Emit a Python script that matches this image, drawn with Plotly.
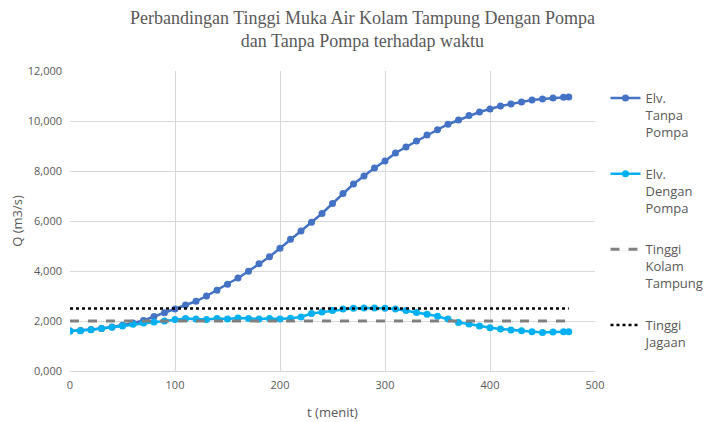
import plotly.graph_objects as go

t = [0, 10, 20, 30, 40, 50, 60, 70, 80, 90, 100, 110, 120, 130, 140, 150, 160, 170, 180, 190,
     200, 210, 220, 230, 240, 250, 260, 270, 280, 290, 300, 310, 320, 330, 340, 350, 360, 370,
     380, 390, 400, 410, 420, 430, 440, 450, 460, 470, 475]

elv_tanpa = [1600, 1620, 1660, 1700, 1760, 1830, 1920, 2020, 2180, 2330, 2480, 2640, 2790, 3000,
             3230, 3470, 3720, 3990, 4290, 4570, 4910, 5270, 5600, 5950, 6300, 6700, 7100, 7480,
             7800, 8120, 8400, 8720, 8960, 9200, 9440, 9650, 9870, 10040, 10220, 10360, 10480,
             10600, 10680, 10760, 10840, 10880, 10920, 10950, 10960]

elv_dengan = [1600, 1610, 1650, 1700, 1750, 1800, 1870, 1920, 1960, 2000, 2060, 2100, 2080, 2060,
              2100, 2080, 2120, 2100, 2080, 2100, 2080, 2110, 2160, 2300, 2360, 2420, 2480, 2510,
              2520, 2520, 2510, 2480, 2420, 2340, 2270, 2190, 2080, 1940, 1880, 1800, 1730, 1680,
              1640, 1610, 1570, 1540, 1560, 1570, 1570]

tinggi_kolam = [2000] * len(t)
tinggi_jagaan = [2500] * len(t)

y_ticks = [0, 2000, 4000, 6000, 8000, 10000, 12000]
y_labels = ["0,000", "2,000", "4,000", "6,000", "8,000", "10,000", "12,000"]
x_ticks = [0, 100, 200, 300, 400, 500]

fig = go.Figure()
fig.add_trace(go.Scatter(x=t, y=elv_tanpa, mode="lines+markers",
                         name="Elv.<br>Tanpa<br>Pompa", legendgroup="a",
                         line=dict(color="#4472C4", width=2.5),
                         marker=dict(color="#4472C4", size=7)))
fig.add_trace(go.Scatter(x=t, y=elv_dengan, mode="lines+markers",
                         name="Elv.<br>Dengan<br>Pompa", legendgroup="b",
                         line=dict(color="#00B0F0", width=2.5),
                         marker=dict(color="#00B0F0", size=7)))
fig.add_trace(go.Scatter(x=t, y=tinggi_kolam, mode="lines",
                         name="Tinggi<br>Kolam<br>Tampung", legendgroup="c",
                         line=dict(color="#808080", width=3, dash="dash")))
fig.add_trace(go.Scatter(x=t, y=tinggi_jagaan, mode="lines",
                         name="Tinggi<br>Jagaan", legendgroup="d",
                         line=dict(color="#000000", width=2.5, dash="dot")))

fig.add_annotation(text="Perbandingan Tinggi Muka Air Kolam Tampung Dengan Pompa<br>dan Tanpa Pompa terhadap waktu",
                   xref="paper", yref="paper", x=(364 - 70) / 527, y=1 + (71 - 6) / 300,
                   xanchor="center", yanchor="top", showarrow=False, align="center",
                   font=dict(family="Liberation Serif", size=18, color="#595959"))

fig.update_layout(
    width=713, height=422,
    margin=dict(l=62, r=124, t=63, b=59),
    paper_bgcolor="white", plot_bgcolor="white",
    font=dict(family="Open Sans", size=11, color="#595959"),
    showlegend=True,
    legend=dict(x=1.02, xanchor="left", y=(371 - 83) / 300, yanchor="top",
                font=dict(family="Open Sans", size=13, color="#595959"),
                tracegroupgap=22, valign="top", bgcolor="rgba(0,0,0,0)",
                traceorder="grouped"),
    xaxis=dict(range=[0, 500], tickvals=x_ticks, showgrid=True, gridcolor="#d9d9d9",
               gridwidth=1, zeroline=False, showline=True, linecolor="#d9d9d9",
               ticks="", automargin=False, ticklabelstandoff=4,
               title=dict(text="t (menit)", font=dict(size=13, color="#595959"), standoff=16)),
    yaxis=dict(range=[0, 12000], tickvals=y_ticks, ticktext=y_labels, showgrid=True,
               gridcolor="#d9d9d9", gridwidth=1, zeroline=False, showline=False,
               ticks="", automargin=False, ticklabelstandoff=7,
               title=dict(text="Q (m3/s)", font=dict(size=13, color="#595959"), standoff=8)),
)

fig.write_html("out.html")
